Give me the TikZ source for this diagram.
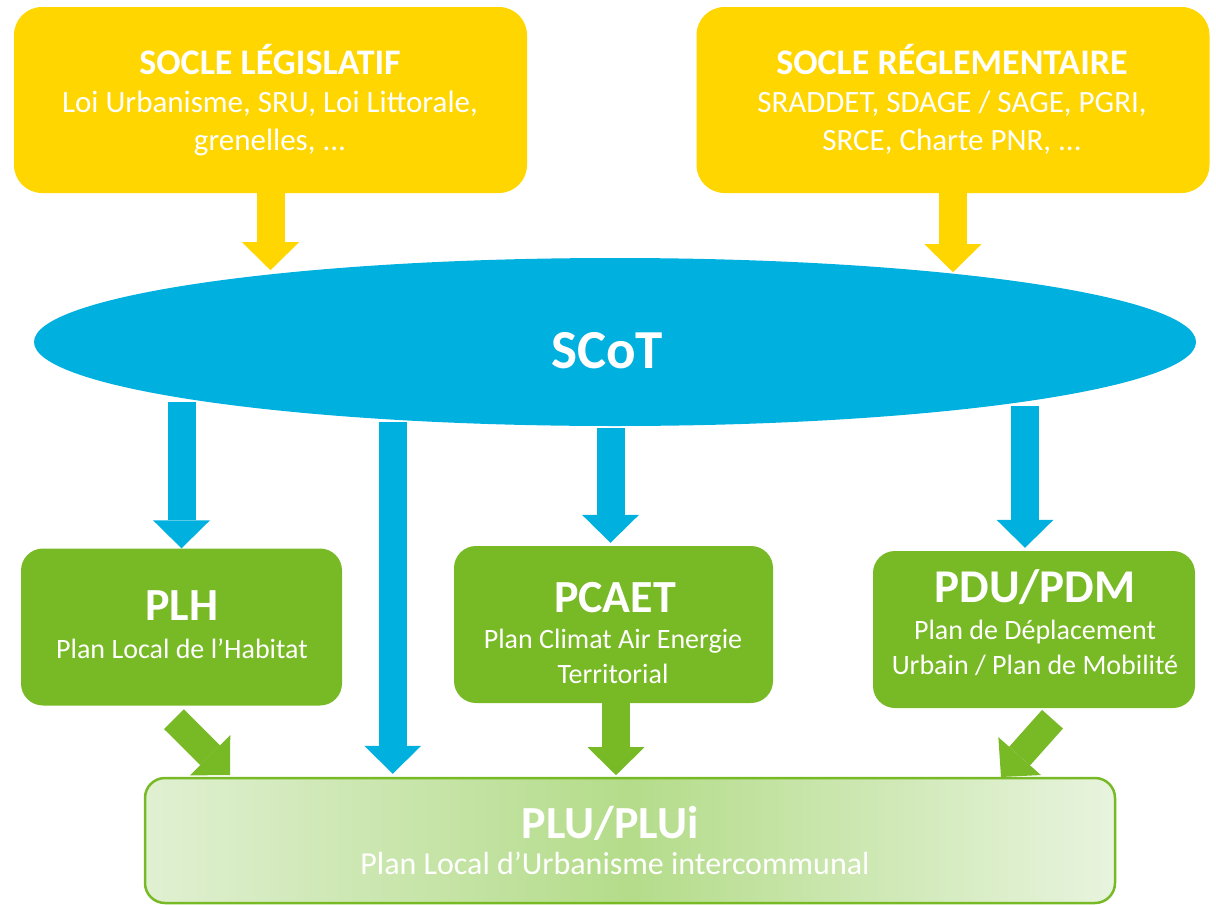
\documentclass[tikz,border=0pt]{standalone}
\usepackage{fontspec}
\setmainfont{Carlito}
\usetikzlibrary{arrows.meta,calc,shapes.geometric}
\definecolor{ycol}{RGB}{255,214,0}
\definecolor{bcol}{RGB}{0,176,222}
\definecolor{gcol}{RGB}{120,185,38}
\definecolor{pluL}{RGB}{224,240,210}
\definecolor{pluM}{RGB}{180,220,138}
\definecolor{pluR}{RGB}{232,244,222}
\begin{document}
\begin{tikzpicture}[x=1pt,y=-1pt,
  ybox/.style={fill=ycol, rounded corners=28pt, minimum width=513pt, minimum height=186pt, inner sep=0pt},
  gbox/.style={fill=gcol, rounded corners=22pt, minimum width=321pt, minimum height=157pt, inner sep=0pt},
  txt/.style={text=white, align=center, inner sep=0pt, anchor=base},
  blockarrow/.style={line width=28pt, -{Triangle[width=57pt,length=28pt,line width=0pt]}},
  yarr/.style={blockarrow, color=ycol},
  barr/.style={blockarrow, color=bcol},
  garr/.style={blockarrow, color=gcol},
]
\useasboundingbox (0,0) rectangle (1216,905);
% boxes
\node[ybox] (leg) at (270.5,100) {};
\node[ybox] (reg) at (953,100) {};
\node[ellipse, fill=bcol, minimum width=1162pt, minimum height=168pt, inner sep=0pt] (scot) at (615,342) {};
\node[gbox] (plh) at (181.5,627) {};
\node[gbox, minimum width=319pt] (pcaet) at (613.5,624.5) {};
\node[gbox, minimum width=322pt] (pdu) at (1034,629.5) {};
% arrows
\draw[yarr] (leg.south) -- ++(0,77);
\draw[yarr] (reg.south) -- ++(0,79);
\draw[barr] ($(plh.north)+(0,-146)$) -- (plh.north);
\draw[barr] ($(pcaet.north)+(-3,-118)$) -- ($(pcaet.north)+(-3,-3)$);
\draw[barr] ($(pdu.north)+(-9,-145)$) -- ($(pdu.north)+(-9,-3)$);
\draw[garr] ($(plh.south)+(-7.5,13.5)$) -- (230,775);
\draw[garr] ($(pcaet.south)+(2.5,0)$) -- ++(0,72);
\draw[garr] ($(pdu.south)+(18.5,11)$) -- (1001,777);
\node[draw=gcol, line width=2.5pt, rounded corners=20pt, minimum width=970pt, minimum height=125pt, inner sep=0pt,
      left color=pluL, right color=pluR, middle color=pluM] (plu) at (630,840.5) {};
\draw[barr] ($(plu.north west)+(249,-355)$) -- ($(plu.north west)+(249,-3)$);
% texts (multi-line nodes: base = baseline of last line)
\node[txt, font=\fontsize{31}{38}\selectfont] (legt) at (270,150)
  {{\fontsize{36}{38}\selectfont\bfseries SOCLE LÉGISLATIF}\\Loi Urbanisme, SRU, Loi Littorale,\\grenelles, ...};
\node[txt, font=\fontsize{31}{38}\selectfont] (regt) at (952,150)
  {{\fontsize{36}{38}\selectfont\bfseries SOCLE RÉGLEMENTAIRE}\\SRADDET, SDAGE / SAGE, PGRI,\\SRCE, Charte PNR, ...};
\node[txt, font=\fontsize{55}{60}\selectfont\bfseries] (scott) at (607,368) {SCoT};
\node[txt, font=\fontsize{46}{50}\selectfont\bfseries] (plht) at (182,620) {PLH};
\node[txt, font=\fontsize{28}{34}\selectfont] (plhs) at (182,658) {Plan Local de l’Habitat};
\node[txt, font=\fontsize{46}{50}\selectfont\bfseries] (pcaett) at (615,612) {PCAET};
\node[txt, font=\fontsize{28}{35}\selectfont] (pcaets) at (613,683) {Plan Climat Air Energie\\Territorial};
\node[txt, font=\fontsize{47}{50}\selectfont\bfseries] (pdut) at (1035,602) {PDU/PDM};
\node[txt, font=\fontsize{28}{35}\selectfont] (pdus) at (1035,674) {Plan de Déplacement\\Urbain / Plan de Mobilité};
\node[txt, font=\fontsize{46}{50}\selectfont\bfseries] (plut) at (610,838) {PLU/PLUi};
\node[txt, font=\fontsize{32}{36}\selectfont] (plus) at (615,874) {Plan Local d’Urbanisme intercommunal};
\end{tikzpicture}
\end{document}
